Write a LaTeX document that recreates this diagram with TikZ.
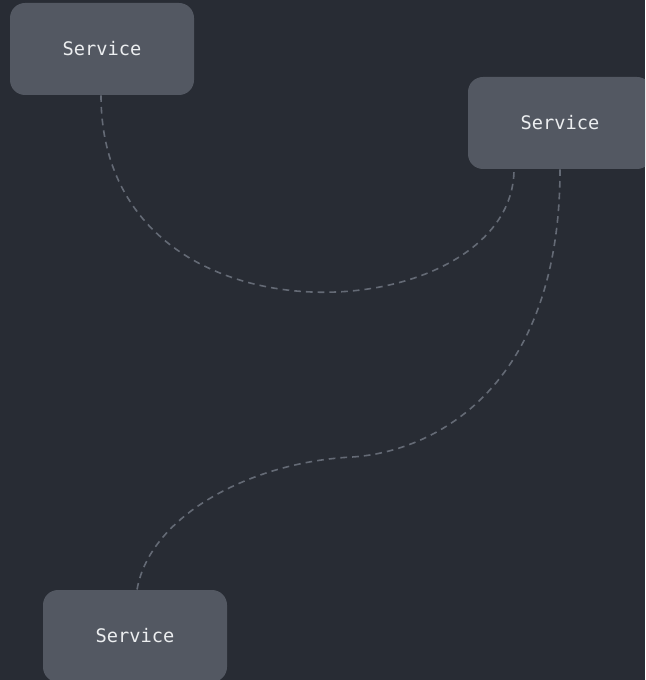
\documentclass[tikz,border=0pt]{standalone}
\usepackage{fontspec}
\setmonofont{DejaVu Sans Mono}
\definecolor{bgc}{HTML}{282C34}
\definecolor{boxc}{HTML}{535862}
\definecolor{linec}{HTML}{646A75}
\definecolor{txtc}{HTML}{ECEEF0}
\begin{document}
\begin{tikzpicture}[x=0.75pt,y=-0.75pt,
  svc/.style={rectangle, rounded corners=11.25pt, fill=boxc, minimum width=138pt, minimum height=69pt, inner sep=0pt, text=txtc, font=\ttfamily\fontsize{14}{16}\selectfont},
  link/.style={draw=linec, line width=1.2pt, dash pattern=on 5pt off 3.8pt}]
\fill[bgc] (0,0) rectangle (645,680);
\useasboundingbox (0,0) rectangle (645,680);
\clip (0,0) rectangle (645,680);
\node[svc] (s1) at (102,49) {Service};
\node[svc] (s2) at (560,123) {Service};
\node[svc] (s3) at (135,636) {Service};
\coordinate (m) at (352,457);
\draw[link] ([xshift=-0.75pt]s1.south) .. controls (101,360) and (514,330) .. ([xshift=-34.5pt]s2.south);
\draw[link] (s2.south) .. controls (560,390) and (432,452) .. (m)
  .. controls (252,462) and (150,515) .. ([xshift=1.5pt]s3.north);
\end{tikzpicture}
\end{document}
